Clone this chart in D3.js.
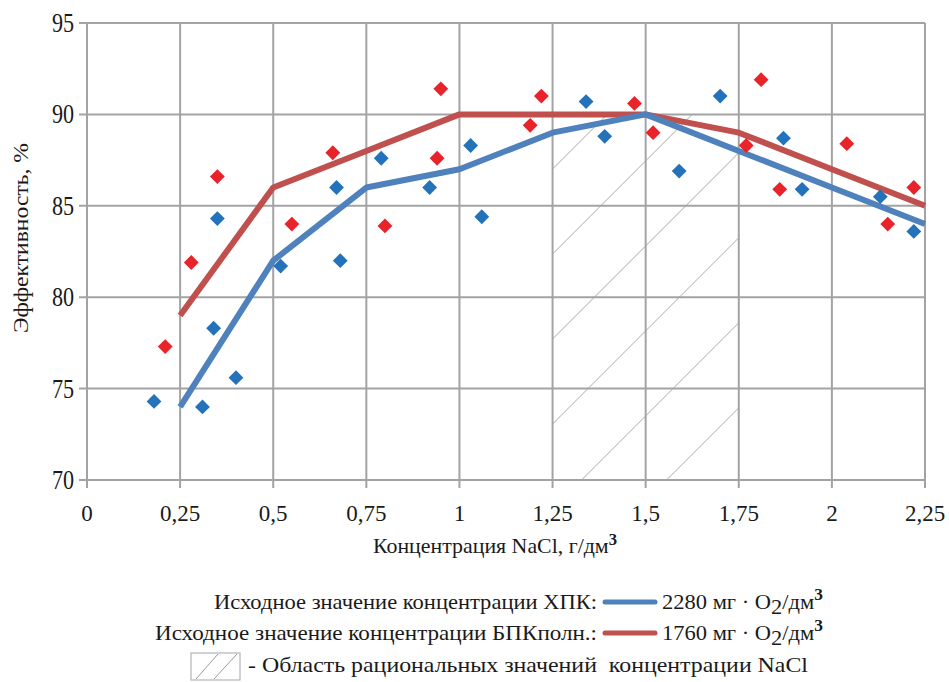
<!DOCTYPE html>
<html>
<head>
<meta charset="utf-8">
<script src="https://cdn.jsdelivr.net/npm/d3@7"></script>
</head>
<body style="margin:0">
<svg id="chart" width="949" height="682" font-family="Liberation Serif">
  <style>text { font-family: "Times New Roman", Tinos, "Liberation Serif"; }</style>
</svg>
<script>
// Axis ticks
const xTicks = [0, 0.25, 0.5, 0.75, 1, 1.25, 1.5, 1.75, 2, 2.25];
const xTickLabels = ["0", "0,25", "0,5", "0,75", "1", "1,25", "1,5", "1,75", "2", "2,25"];
const yTicks = [70, 75, 80, 85, 90, 95];

// Fitted curves (efficiency, %) at NaCl concentration points
const curveX = [0.25, 0.5, 0.75, 1, 1.25, 1.5, 1.75, 2, 2.25];
const codCurve = [74, 82, 86, 87, 89, 90, 88, 86, 84];
const bodCurve = [79, 86, 88, 90, 90, 90, 89, 87, 85];

// Measured points, COD (ХПК)
const codPointsX = [0.18, 0.31, 0.34, 0.35, 0.40, 0.52, 0.67, 0.68, 0.79, 0.92, 1.03, 1.06, 1.34, 1.39, 1.59, 1.70, 1.87, 1.92, 2.13, 2.22];
const codPointsY = [74.3, 74.0, 78.3, 84.3, 75.6, 81.7, 86.0, 82.0, 87.6, 86.0, 88.3, 84.4, 90.7, 88.8, 86.9, 91.0, 88.7, 85.9, 85.5, 83.6];

// Measured points, BOD (БПКполн.)
const bodPointsX = [0.21, 0.28, 0.35, 0.55, 0.66, 0.80, 0.94, 0.95, 1.19, 1.22, 1.47, 1.52, 1.77, 1.81, 1.86, 2.04, 2.15, 2.22];
const bodPointsY = [77.3, 81.9, 86.6, 84.0, 87.9, 83.9, 87.6, 91.4, 89.4, 91.0, 90.6, 89.0, 88.3, 91.9, 85.9, 88.4, 84.0, 86.0];

// Rational NaCl range (hatched)
const rationalRange = [1.25, 1.75];
const rationalBand = [70, 90];

const colors = {
  grid: "#a3a3a3",
  hatch: "#a8a8a8",
  codLine: "#4f81bd",
  bodLine: "#c0504d",
  codPoint: "#2472ba",
  bodPoint: "#e8232a",
  text: "#1a1a1a"
};

const svg = d3.select("#chart");
const x = d3.scaleLinear().domain([0, 2.25]).range([87, 925]);
const y = d3.scaleLinear().domain([70, 95]).range([480, 23]);

// Serif text helper
function label(parent, size) {
  return parent.append("text")
    .attr("font-family", "Times New Roman")
    .attr("font-size", size)
    .attr("fill", colors.text);
}

// Hatched rational range: diagonal lines clipped to the band
svg.append("clipPath").attr("id", "bandClip").append("rect")
  .attr("x", x(rationalRange[0]))
  .attr("y", y(rationalBand[1]))
  .attr("width", x(rationalRange[1]) - x(rationalRange[0]))
  .attr("height", y(rationalBand[0]) - y(rationalBand[1]));
const hatchStep = 85;
const hatchOrigin = x(rationalRange[0]) + 29;
const hatchG = svg.append("g").attr("clip-path", "url(#bandClip)");
hatchG.selectAll("line").data(d3.range(-4, 3)).join("line")
  .attr("x1", k => hatchOrigin + k * hatchStep).attr("y1", y(70))
  .attr("x2", k => hatchOrigin + k * hatchStep + 500).attr("y2", y(70) - 500)
  .attr("stroke", colors.hatch).attr("stroke-width", 1);

// Grid lines with their outer tick stubs
const grid = svg.append("g");
grid.selectAll("line.v").data(xTicks).join("line")
  .attr("x1", d => x(d)).attr("x2", d => x(d))
  .attr("y1", y(95)).attr("y2", y(70) + 8)
  .attr("stroke", colors.grid).attr("stroke-width", 2);
grid.selectAll("line.h").data(yTicks).join("line")
  .attr("x1", x(0) - 8).attr("x2", x(2.25))
  .attr("y1", d => y(d)).attr("y2", d => y(d))
  .attr("stroke", colors.grid).attr("stroke-width", 2);

// Tick labels
xTicks.forEach((d, i) => {
  label(svg, 23).attr("x", x(d)).attr("y", 521)
    .attr("text-anchor", "middle").text(xTickLabels[i]);
});
yTicks.forEach(d => {
  label(svg, 27)
    .attr("transform", `translate(${x(0) - 13},${y(d) + 9}) scale(0.82,1)`)
    .attr("text-anchor", "end").text(d);
});

// Axis titles
label(svg, 21)
  .attr("transform", `translate(28,238) rotate(-90)`)
  .attr("text-anchor", "middle")
  .attr("textLength", 190).attr("lengthAdjust", "spacingAndGlyphs")
  .text("Эффективность, %");

const xt = label(svg, 21).attr("x", 373).attr("y", 553)
  .attr("textLength", 244).attr("lengthAdjust", "spacingAndGlyphs");
xt.append("tspan").text("Концентрация NaCl, г/дм");
xt.append("tspan").attr("dy", -8).attr("font-size", 16).attr("font-weight", "bold").text("3");

// Curves
const line = d3.line().x(d => x(d[0])).y(d => y(d[1]));
svg.append("path")
  .attr("d", line(curveX.map((v, i) => [v, bodCurve[i]])))
  .attr("fill", "none").attr("stroke", colors.bodLine).attr("stroke-width", 6)
  .attr("stroke-linejoin", "round");
svg.append("path")
  .attr("d", line(curveX.map((v, i) => [v, codCurve[i]])))
  .attr("fill", "none").attr("stroke", colors.codLine).attr("stroke-width", 6)
  .attr("stroke-linejoin", "round");

// Diamond markers
const diamond = d3.symbol().type(d3.symbolSquare).size(110);
svg.append("g").selectAll("path").data(codPointsX.map((v, i) => [v, codPointsY[i]])).join("path")
  .attr("d", diamond)
  .attr("transform", d => `translate(${x(d[0])},${y(d[1])}) rotate(45)`)
  .attr("fill", colors.codPoint);
svg.append("g").selectAll("path").data(bodPointsX.map((v, i) => [v, bodPointsY[i]])).join("path")
  .attr("d", diamond)
  .attr("transform", d => `translate(${x(d[0])},${y(d[1])}) rotate(45)`)
  .attr("fill", colors.bodPoint);

// Legend
const rows = [
  { label: "Исходное значение концентрации ХПК:", value: "2280", color: colors.codLine, yy: 602, left: 214 },
  { label: "Исходное значение концентрации БПКполн.:", value: "1760", color: colors.bodLine, yy: 633, left: 155 }
];
rows.forEach(r => {
  label(svg, 22).attr("x", r.left).attr("y", r.yy + 7)
    .attr("textLength", 597 - r.left).attr("lengthAdjust", "spacingAndGlyphs")
    .text(r.label);
  svg.append("line")
    .attr("x1", 605).attr("x2", 655).attr("y1", r.yy).attr("y2", r.yy)
    .attr("stroke", r.color).attr("stroke-width", 5).attr("stroke-linecap", "round");
  const t = label(svg, 22).attr("x", 662).attr("y", r.yy + 7)
    .attr("textLength", 161).attr("lengthAdjust", "spacingAndGlyphs");
  t.append("tspan").text(r.value + " мг · O");
  t.append("tspan").attr("dy", 5).text("2");
  t.append("tspan").attr("dy", -5).text("/дм");
  t.append("tspan").attr("dy", -9).attr("font-size", 17).attr("font-weight", "bold").text("3");
});

// Hatched legend swatch
svg.append("rect").attr("x", 191).attr("y", 653).attr("width", 49).attr("height", 27)
  .attr("fill", "#fff").attr("stroke", "#b5b5b5").attr("stroke-width", 1.2);
svg.append("path").attr("d", "M196,679 L218,654 M214,679 L237,654")
  .attr("stroke", "#9a9a9a").attr("stroke-width", 1).attr("fill", "none");
label(svg, 22).attr("x", 248).attr("y", 672)
  .attr("textLength", 560).attr("lengthAdjust", "spacingAndGlyphs")
  .text("- Область рациональных значений\u00a0\u00a0концентрации NaCl");
</script>
</body>
</html>
